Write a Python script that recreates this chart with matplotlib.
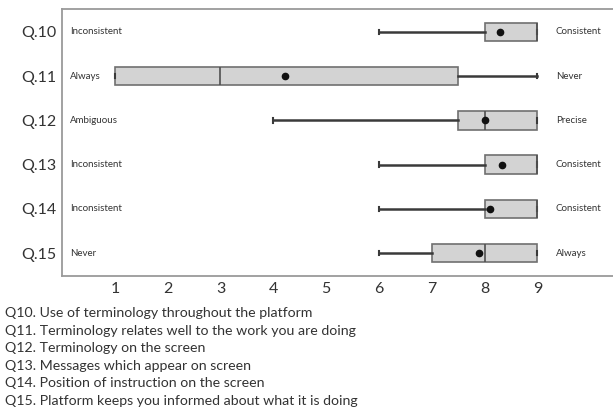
import matplotlib
matplotlib.use("Agg")
import matplotlib.pyplot as plt

# questions, top to bottom
questions = ['Q.10', 'Q.11', 'Q.12', 'Q.13', 'Q.14', 'Q.15']
low_labels = ['Inconsistent', 'Always', 'Ambiguous', 'Inconsistent', 'Inconsistent', 'Never']
high_labels = ['Consistent', 'Never', 'Precise', 'Consistent', 'Consistent', 'Always']

# box stats
whis_lo = [6, 1, 4, 6, 6, 6]
q1 = [8, 1, 7.5, 8, 8, 7]
med = [9, 3, 8, 9, 9, 8]
q3 = [9, 7.5, 9, 9, 9, 9]
whis_hi = [9, 9, 9, 9, 9, 9]
means = [8.3, 4.22, 8.0, 8.33, 8.1, 7.9]

notes = [
    'Q10. Use of terminology throughout the platform',
    'Q11. Terminology relates well to the work you are doing',
    'Q12. Terminology on the screen',
    'Q13. Messages which appear on screen',
    'Q14. Position of instruction on the screen',
    'Q15. Platform keeps you informed about what it is doing',
]

plt.rcParams['font.family'] = ['Lato', 'DejaVu Sans']

fig = plt.figure(figsize=(6.13, 4.11), dpi=100)
ax = fig.add_axes([62 / 613, 1 - 276 / 411, 1 - 62 / 613, (276 - 9) / 411])

stats = []
for i in range(len(questions)):
    stats.append(dict(whislo=whis_lo[i], q1=q1[i], med=med[i], q3=q3[i],
                      whishi=whis_hi[i], mean=means[i], fliers=[]))

pos = list(range(len(questions)))
ax.bxp(stats, positions=pos, widths=0.42, orientation='horizontal',
       patch_artist=True, showmeans=True, capwidths=0.1,
       boxprops=dict(facecolor='#d3d3d3', edgecolor='#707070', linewidth=1.2),
       medianprops=dict(color='#505050', linewidth=1.2),
       whiskerprops=dict(color='#3a3a3a', linewidth=1.8),
       capprops=dict(color='#3a3a3a', linewidth=1.5),
       meanprops=dict(marker='o', markerfacecolor='#111111',
                      markeredgecolor='#111111', markersize=4.5))

for i in pos:
    ax.text(0.15, i, low_labels[i], fontsize=7, va='center', ha='left', color='#333333')
    ax.text(9.35, i, high_labels[i], fontsize=7, va='center', ha='left', color='#333333')

ax.set_xlim(0, 10.43)
ax.set_ylim(5.52, -0.52)
ax.set_yticks(pos)
ax.set_yticklabels(questions, fontsize=11.5, color='#333333')
ax.set_xticks(range(1, 10))
ax.set_xticklabels([str(v) for v in range(1, 10)], fontsize=11.5, color='#333333')
ax.tick_params(length=0, pad=4)
ax.spines['right'].set_visible(False)
for s in ['left', 'top', 'bottom']:
    ax.spines[s].set_color('#9a9a9a')
    ax.spines[s].set_linewidth(1.3)

for k, line in enumerate(notes):
    fig.text(5 / 613, 1 - (313 + 17.6 * k) / 411, line, fontsize=10.2,
             va='center', ha='left', color='#333333')

fig.savefig('out.png', dpi=100, facecolor='white')
